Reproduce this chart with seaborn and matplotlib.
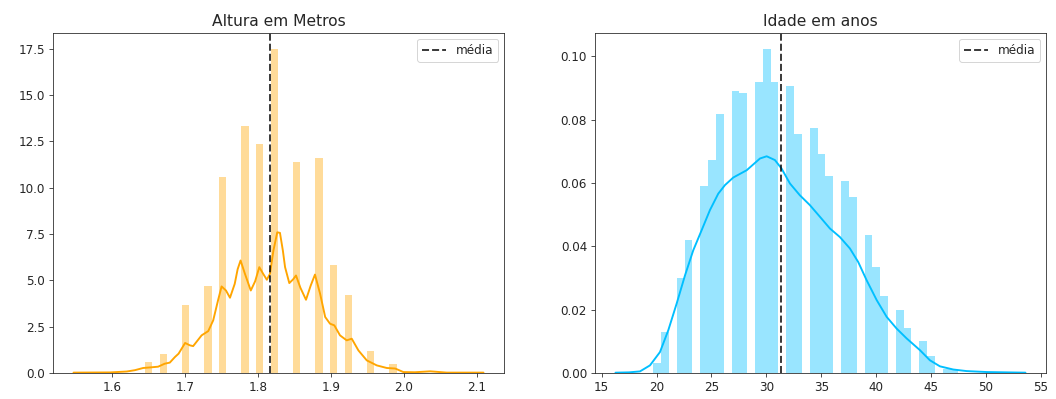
import numpy as np
import pandas as pd
import matplotlib
matplotlib.use("Agg")
import matplotlib.pyplot as plt
import seaborn as sns

# histograma da altura (densidade por bin, bins uniformes)
altura_bin_inicio = 1.6449
altura_bin_largura = 0.01015
altura_densidade = [0.59, 0, 1.04, 0, 0, 3.65, 0, 0, 4.72, 0,
                    10.59, 0, 0, 13.30, 0, 12.35, 0, 17.47, 0, 0,
                    11.40, 0, 0, 11.62, 0, 5.84, 0, 4.20, 0, 0,
                    1.17, 0, 0, 0.51]

# curva kde da altura
altura_kde_x = [1.547, 1.597, 1.620, 1.631, 1.6425, 1.652, 1.663, 1.672, 1.679, 1.686,
                1.691, 1.700, 1.7066, 1.711, 1.7226, 1.7317, 1.7385, 1.745, 1.750, 1.756,
                1.7615, 1.768, 1.772, 1.776, 1.782, 1.790, 1.796, 1.8017, 1.807, 1.812,
                1.8163, 1.821, 1.8263, 1.830, 1.834, 1.837, 1.8428, 1.848, 1.852, 1.858,
                1.8657, 1.872, 1.878, 1.885, 1.892, 1.8986, 1.9045, 1.9123, 1.9215, 1.9284,
                1.9375, 1.949, 1.9627, 1.9764, 1.988, 1.9992, 2.015, 2.036, 2.0587, 2.109]
altura_kde_y = [0.02, 0.03, 0.08, 0.15, 0.27, 0.30, 0.34, 0.50, 0.56, 0.86,
                1.04, 1.62, 1.49, 1.45, 2.03, 2.26, 2.84, 3.9, 4.67, 4.45,
                4.06, 4.81, 5.6, 6.07, 5.35, 4.45, 4.95, 5.71, 5.35, 5.03,
                5.35, 6.6, 7.59, 7.56, 6.6, 5.71, 4.85, 5.05, 5.26, 4.6,
                3.95, 4.7, 5.31, 4.28, 3.02, 2.66, 2.57, 2.03, 1.76, 1.85,
                1.22, 0.68, 0.41, 0.27, 0.24, 0.05, 0.04, 0.09, 0.02, 0.02]
altura_media = 1.8163

# histograma da idade
idade_bin_inicio = 19.70
idade_bin_largura = 0.7127
idade_densidade = [0.0032, 0.0129, 0, 0.0299, 0.0421, 0, 0.0590, 0.0672, 0.0819, 0,
                   0.0889, 0.0885, 0, 0.0919, 0.1022, 0.0919, 0, 0.0905, 0.0754, 0,
                   0.0772, 0.0690, 0.0621, 0, 0.0606, 0.0555, 0, 0.0437, 0.0333, 0.0242,
                   0, 0.0198, 0.0143, 0, 0.0100, 0.0055, 0, 0.0014, 0.0008]

idade_kde_x = [16.26, 17.5, 18.49, 19.40, 20.31, 21.07, 21.83, 22.59, 23.34, 24.11,
               24.86, 25.62, 26.23, 26.99, 28.21, 29.42, 30.03, 30.78, 31.39, 32.15,
               33.05, 33.96, 34.88, 35.79, 36.70, 37.61, 38.37, 39.13, 40.05, 40.96,
               41.87, 42.78, 43.99, 44.90, 45.81, 47.02, 48.24, 50.06, 53.60]
idade_kde_y = [0.0001, 0.0002, 0.0005, 0.0024, 0.0066, 0.0135, 0.0219, 0.0308, 0.0387, 0.0451,
               0.0514, 0.0566, 0.0593, 0.0617, 0.0640, 0.0677, 0.0684, 0.0672, 0.0645, 0.0598,
               0.0561, 0.0530, 0.0493, 0.0456, 0.0429, 0.0393, 0.0350, 0.0293, 0.0230, 0.0177,
               0.0140, 0.0109, 0.0072, 0.0040, 0.0021, 0.0011, 0.0006, 0.0003, 0.0001]
idade_media = 31.33

sns.set_style("ticks")
plt.rcParams.update({
    "xtick.labelsize": 12,
    "ytick.labelsize": 12,
    "legend.fontsize": 12,
    "xtick.major.size": 4.4,
    "ytick.major.size": 4.4,
})

fig, (ax1, ax2) = plt.subplots(1, 2, figsize=(1056 / 72, 399 / 72), dpi=72)
fig.subplots_adjust(left=0.0502, right=0.9905, bottom=0.0652, top=0.9173, wspace=0.2018)


def painel(ax, inicio, largura, dens, kx, ky, media, cor, titulo):
    edges = inicio + largura * np.arange(len(dens) + 1)
    hist = pd.DataFrame({"centro": edges[:-1] + largura / 2, "dens": dens})
    kde = pd.DataFrame({"x": kx, "y": ky})
    sns.histplot(data=hist, x="centro", weights="dens", bins=edges.tolist(), color=cor,
                 alpha=0.4, linewidth=0, ax=ax)
    sns.lineplot(data=kde, x="x", y="y", color=cor, lw=1.9, ax=ax)
    ax.axvline(media, color="k", alpha=0.8, linestyle="--", lw=1.9, label="média")
    ax.set_title(titulo, fontsize=15.5, pad=7)
    ax.set(xlabel="", ylabel="")
    ax.legend(loc="upper right")


painel(ax1, altura_bin_inicio, altura_bin_largura, altura_densidade,
       altura_kde_x, altura_kde_y, altura_media, "orange", "Altura em Metros")
painel(ax2, idade_bin_inicio, idade_bin_largura, idade_densidade,
       idade_kde_x, idade_kde_y, idade_media, "deepskyblue", "Idade em anos")

fig.savefig("out.png", dpi=72)
